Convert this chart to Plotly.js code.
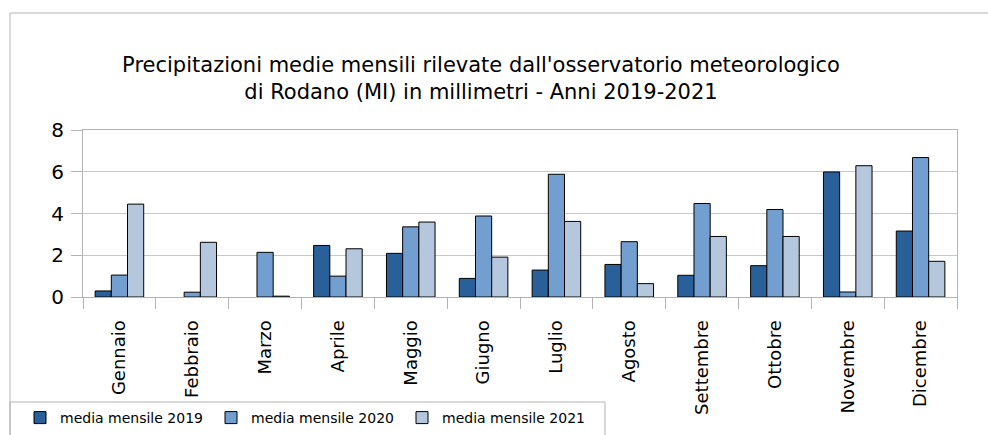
<!DOCTYPE html>
<html>
<head>
<meta charset="utf-8">
<script src="https://cdn.plot.ly/plotly-3.0.1.min.js"></script>
<style>html,body{margin:0;padding:0;background:#fff;}#chart{width:988px;height:435px;}</style>
</head>
<body>
<div id="chart"></div>
<script>
const months = ["Gennaio","Febbraio","Marzo","Aprile","Maggio","Giugno","Luglio","Agosto","Settembre","Ottobre","Novembre","Dicembre"];
const seriesNames = ["media mensile 2019","media mensile 2020","media mensile 2021"];
const values2019 = [0.29, null, null, 2.47, 2.09, 0.89, 1.29, 1.56, 1.04, 1.50, 5.99, 3.16];
const values2020 = [1.05, 0.23, 2.14, 1.00, 3.36, 3.88, 5.88, 2.65, 4.48, 4.19, 0.24, 6.68];
const values2021 = [4.45, 2.62, 0.04, 2.31, 3.59, 1.91, 3.62, 0.64, 2.90, 2.90, 6.29, 1.71];
const yTicks = [0, 2, 4, 6, 8];
const colors = ["#2a6099", "#729fcf", "#b4c7dc"];
const titleText = "Precipitazioni medie mensili rilevate dall'osservatorio meteorologico<br>di Rodano (MI) in millimetri - Anni 2019-2021";

const allValues = [values2019, values2020, values2021];
const traces = allValues.map((v, i) => ({
  type: "bar",
  x: months,
  y: v,
  name: seriesNames[i],
  marker: {color: colors[i], line: {color: "#000000", width: 1}},
  hoverinfo: "x+y+name"
}));

const W = 988, H = 435;
const L = 83, R = 31, T = 130, B = 138;
const pw = W - L - R, ph = H - T - B;
const px = v => (v - L) / pw;
const py = v => (H - B - v) / ph;
const FONT = "DejaVu Sans, Verdana, sans-serif";

const layout = {
  width: W, height: H,
  margin: {l: L, r: R, t: T, b: B, pad: 0, autoexpand: false},
  paper_bgcolor: "#ffffff",
  plot_bgcolor: "#ffffff",
  font: {family: FONT, color: "#000000"},
  barmode: "group",
  bargap: 0.333,
  bargroupgap: 0,
  showlegend: true,
  title: {
    text: titleText,
    font: {size: 21, family: FONT, color: "#000"},
    x: 481 / W, xanchor: "center", xref: "container",
    y: 1 - 72 / H, yanchor: "middle", yref: "container"
  },
  xaxis: {
    type: "category",
    automargin: false,
    tickangle: -90,
    tickfont: {size: 18},
    ticks: "outside",
    tickson: "boundaries",
    ticklen: 11,
    ticklabelstandoff: 15,
    tickcolor: "#b3b3b3",
    showline: true,
    linecolor: "#b3b3b3",
    mirror: true,
    showgrid: false,
    zeroline: false,
    fixedrange: true
  },
  yaxis: {
    automargin: false,
    range: [0, 8],
    tickvals: yTicks,
    ticktext: yTicks.map(String),
    tickfont: {size: 20},
    ticks: "outside",
    ticklen: 11,
    ticklabelstandoff: 3,
    tickcolor: "#b3b3b3",
    showline: true,
    linecolor: "#b3b3b3",
    mirror: true,
    showgrid: true,
    gridcolor: "#c8c8c8",
    zeroline: false,
    fixedrange: true
  },
  legend: {
    orientation: "h",
    x: px(20), xanchor: "left",
    y: py(418), yanchor: "middle",
    font: {size: 14, family: FONT},
    bgcolor: "rgba(0,0,0,0)",
    borderwidth: 0,
    entrywidth: 146,
    entrywidthmode: "pixels",
    itemwidth: 30,
    traceorder: "normal"
  },
  shapes: [
    {type: "line", xref: "paper", yref: "paper", x0: px(10), x1: px(10), y0: py(13), y1: py(440), line: {color: "#b3b3b3", width: 1}},
    {type: "line", xref: "paper", yref: "paper", x0: px(10), x1: px(990), y0: py(13), y1: py(13), line: {color: "#b3b3b3", width: 1}},
    {type: "rect", xref: "paper", yref: "paper", x0: px(10), x1: px(605), y0: py(402), y1: py(445), line: {color: "#b3b3b3", width: 1}, fillcolor: "rgba(0,0,0,0)"}
  ]
};

Plotly.newPlot("chart", traces, layout, {displayModeBar: false, staticPlot: true});
</script>
</body>
</html>
